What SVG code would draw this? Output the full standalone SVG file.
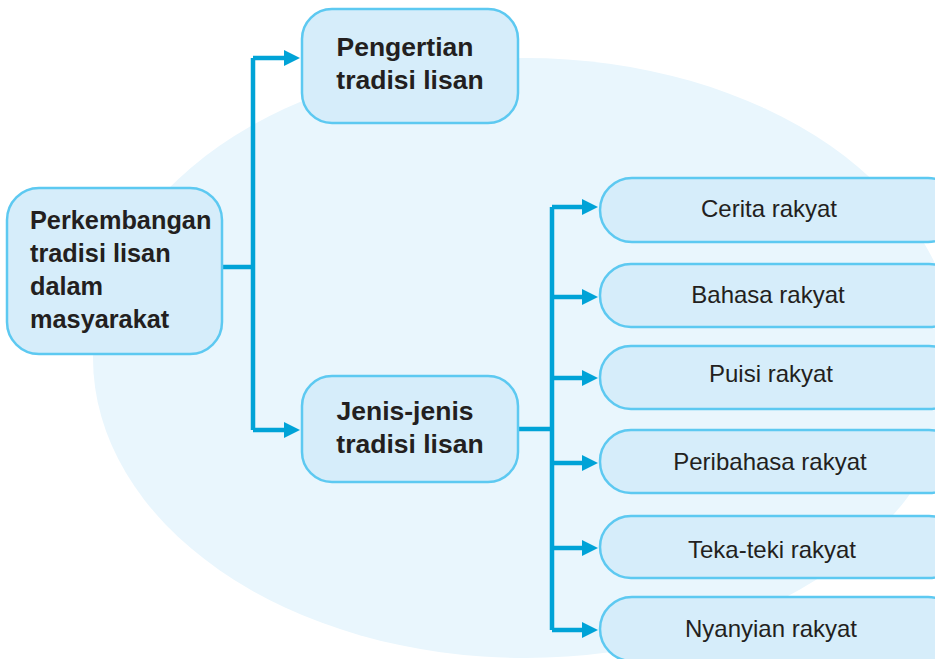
<svg xmlns="http://www.w3.org/2000/svg" width="935" height="659" viewBox="0 0 935 659">
  <defs>
    <style>
      .node { fill: #d6edfa; stroke: #5dc9f1; stroke-width: 2.5; }
      .bold { font-family: "Liberation Sans", Arial, sans-serif; font-weight: bold; font-size: 25.3px; fill: #231f20; }
      .mid { font-size: 26.5px; text-anchor: middle; }
      .reg { font-family: "Liberation Sans", Arial, sans-serif; font-size: 24px; fill: #231f20; text-anchor: middle; }
      .link { fill: none; stroke: #00a3d7; stroke-width: 4.5; }
    </style>
    <marker id="head" markerWidth="16" markerHeight="16" refX="2" refY="8" orient="auto" markerUnits="userSpaceOnUse">
      <path d="M0,0 L16,8 L0,16 Z" fill="#00a3d7"/>
    </marker>
  </defs>

  <rect width="935" height="659" fill="#ffffff"/>
  <!-- soft backdrop -->
  <ellipse cx="525" cy="358" rx="432" ry="300" fill="#e9f6fd"/>

  <g id="connectors">
    <path class="link" d="M222,267 H253 M253,58 V430"/>
    <path class="link" d="M253,58 H286" marker-end="url(#head)"/>
    <path class="link" d="M253,430 H286" marker-end="url(#head)"/>
    <path class="link" d="M518,429 H552 M552,207 V630"/>
    <path class="link" d="M552,207 H584" marker-end="url(#head)"/>
    <path class="link" d="M552,297 H584" marker-end="url(#head)"/>
    <path class="link" d="M552,378 H584" marker-end="url(#head)"/>
    <path class="link" d="M552,463 H584" marker-end="url(#head)"/>
    <path class="link" d="M552,548 H584" marker-end="url(#head)"/>
    <path class="link" d="M552,630 H584" marker-end="url(#head)"/>
  </g>

  <g id="perkembangan">
    <rect class="node" x="7" y="188" width="215" height="166" rx="32"/>
    <text class="bold" x="30" y="229">Perkembangan</text>
    <text class="bold" x="30" y="262">tradisi lisan</text>
    <text class="bold" x="30" y="295">dalam</text>
    <text class="bold" x="30" y="328">masyarakat</text>
  </g>

  <g id="pengertian">
    <rect class="node" x="302" y="9" width="216" height="114" rx="30"/>
    <text class="bold mid" x="405" y="56">Pengertian</text>
    <text class="bold mid" x="410" y="89">tradisi lisan</text>
  </g>

  <g id="jenis">
    <rect class="node" x="302" y="376" width="216" height="106" rx="30"/>
    <text class="bold mid" x="405" y="420">Jenis-jenis</text>
    <text class="bold mid" x="410" y="453">tradisi lisan</text>
  </g>

  <g id="cerita">
    <rect class="node" x="600" y="178" width="360" height="64" rx="32"/>
    <text class="reg" x="769" y="217">Cerita rakyat</text>
  </g>
  <g id="bahasa">
    <rect class="node" x="600" y="264" width="360" height="63" rx="31"/>
    <text class="reg" x="768" y="303">Bahasa rakyat</text>
  </g>
  <g id="puisi">
    <rect class="node" x="600" y="346" width="360" height="63" rx="31"/>
    <text class="reg" x="771" y="382">Puisi rakyat</text>
  </g>
  <g id="peribahasa">
    <rect class="node" x="600" y="430" width="360" height="63" rx="31"/>
    <text class="reg" x="770" y="470">Peribahasa rakyat</text>
  </g>
  <g id="tekateki">
    <rect class="node" x="600" y="516" width="360" height="62" rx="31"/>
    <text class="reg" x="772" y="558">Teka-teki rakyat</text>
  </g>
  <g id="nyanyian">
    <rect class="node" x="600" y="597" width="360" height="64" rx="32"/>
    <text class="reg" x="771" y="637">Nyanyian rakyat</text>
  </g>
</svg>
